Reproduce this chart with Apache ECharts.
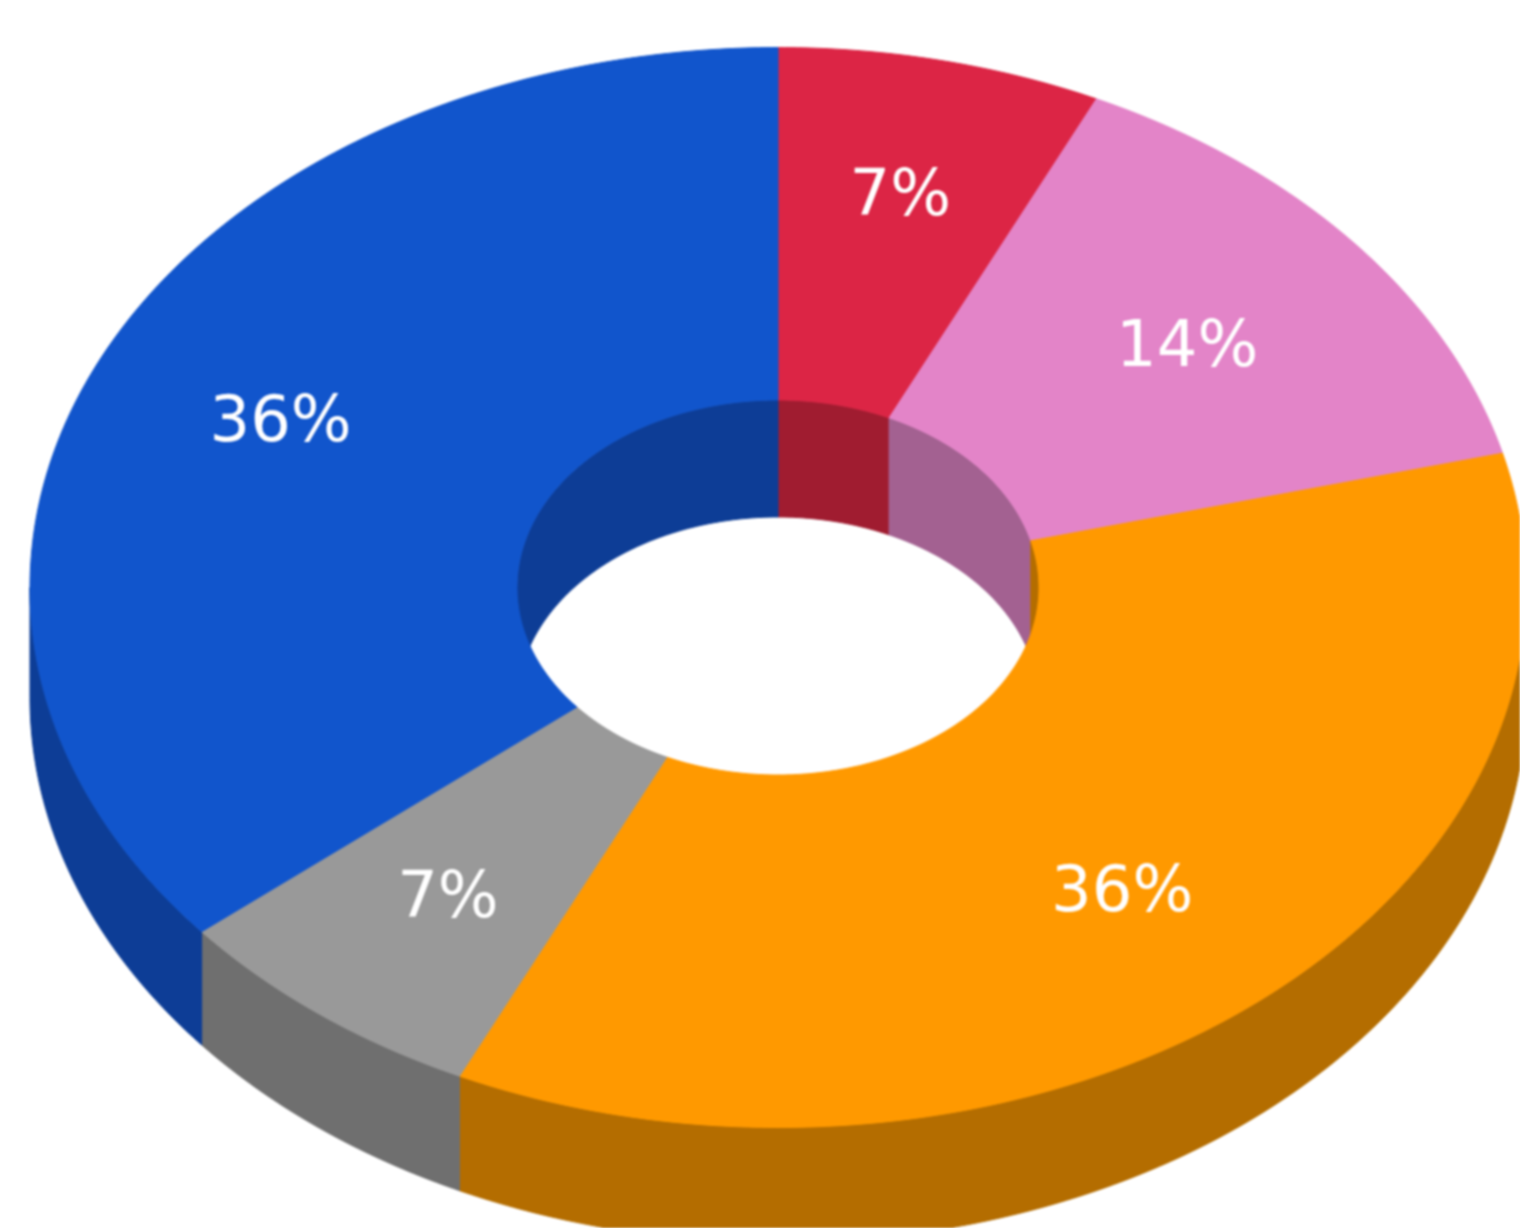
<!DOCTYPE html>
<html>
<head>
<meta charset="utf-8">
<title>Donut</title>
<script src="https://cdn.jsdelivr.net/npm/echarts@6/dist/echarts.min.js"></script>
<style>
html, body { margin: 0; padding: 0; background: #fff; overflow: hidden; }
#main { width: 1520px; height: 1228px; filter: blur(1px); }
</style>
</head>
<body>
<div id="main"></div>
<script>
// slices run clockwise from 12 o'clock
const sliceValues = [7, 14, 36, 7, 36];
const sliceLabels = ["7%", "14%", "36%", "7%", "36%"];
const topColors = ["#dc2545", "#e384c8", "#ff9900", "#999999", "#1155cc"];
const wallColors = ["#a01c30", "#a36191", "#b46d00", "#6f6f6f", "#0d3d96"];
// how far out each label sits, 1 = outer edge
const labelRadii = [0.75, 0.71, 0.722, 0.72, 0.735];

// projection of the tilted ring
const cx = 778, cy = 587.5;
const outerRx = 748, outerRy = 540, outerDepth = 110, outerBottomRy = 545;
const innerRx = 261, innerRy = 187.5, innerDepth = 117;
const labelDrop = 6;

const total = sliceValues.reduce((a, b) => a + b, 0);

function startAngle(i) {
  let sum = 0;
  for (let k = 0; k < i; k++) sum += sliceValues[k];
  return (sum / total) * 360;
}

function arc(rx, ry, dy, from, to) {
  const pts = [];
  const steps = Math.max(2, Math.ceil(Math.abs(to - from) * 2));
  for (let s = 0; s <= steps; s++) {
    const a = ((from + ((to - from) * s) / steps) * Math.PI) / 180;
    pts.push([cx + rx * Math.sin(a), cy - ry * Math.cos(a) + dy]);
  }
  return pts;
}

function poly(pts, color) {
  return {
    type: "polygon",
    shape: { points: pts },
    style: { fill: color, stroke: color, lineWidth: 1 },
  };
}

// outer wall, only the front half (90..270) shows
function renderOuterWall(params, api) {
  const i = params.dataIndex;
  const from = Math.max(startAngle(i), 90);
  const to = Math.min(startAngle(i) + (api.value(0) / total) * 360, 270);
  if (to <= from) return null;
  const top = arc(outerRx, outerRy, 0, from, to);
  const bottom = arc(outerRx, outerBottomRy, outerDepth, to, from);
  return poly(top.concat(bottom), wallColors[i]);
}

// wall inside the hole, only the back half (270..360, 0..90) shows
function renderInnerWall(params, api) {
  const i = params.dataIndex;
  const start = startAngle(i);
  const end = start + (api.value(0) / total) * 360;
  const parts = [];
  [[0, 90], [270, 360]].forEach(function (range) {
    const from = Math.max(start, range[0]);
    const to = Math.min(end, range[1]);
    if (to > from) {
      const top = arc(innerRx, innerRy, 0, from, to);
      const bottom = arc(innerRx, innerRy, innerDepth, to, from);
      parts.push(poly(top.concat(bottom), wallColors[i]));
    }
  });
  return { type: "group", children: parts };
}

function renderTop(params, api) {
  const i = params.dataIndex;
  const from = startAngle(i);
  const to = from + (api.value(0) / total) * 360;
  const outer = arc(outerRx, outerRy, 0, from, to);
  const inner = arc(innerRx, innerRy, 0, to, from);
  return poly(outer.concat(inner), topColors[i]);
}

function renderLabel(params, api) {
  const i = params.dataIndex;
  const mid = startAngle(i) + (api.value(0) / total) * 180;
  const p = arc(outerRx * labelRadii[i], outerRy * labelRadii[i], labelDrop, mid, mid)[0];
  return {
    type: "text",
    style: {
      x: p[0],
      y: p[1],
      text: sliceLabels[i],
      fill: "#ffffff",
      font: '64px "DejaVu Sans", sans-serif',
      align: "center",
      verticalAlign: "middle",
    },
  };
}

const chart = echarts.init(document.getElementById("main"), null, { renderer: "canvas" });
const layers = [renderOuterWall, renderInnerWall, renderTop, renderLabel];

chart.setOption({
  backgroundColor: "#ffffff",
  animation: false,
  series: layers.map(function (fn, idx) {
    return {
      type: "custom",
      coordinateSystem: "none",
      renderItem: fn,
      data: sliceValues,
      z: idx + 1,
      silent: true,
    };
  }),
});
</script>
</body>
</html>
